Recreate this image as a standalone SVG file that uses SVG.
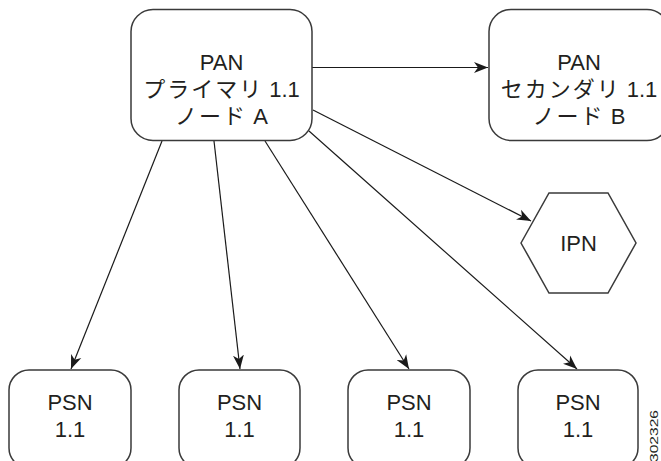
<svg xmlns="http://www.w3.org/2000/svg" width="661" height="461" viewBox="0 0 661 461">
<style>
.box{fill:#fff;stroke:#3a3a3a;stroke-width:1.5}
.lbl{font-family:"Liberation Sans","Noto Sans CJK JP",sans-serif;font-size:22px;fill:#231f20;text-anchor:middle}
.kana{letter-spacing:2px}
.edge{stroke:#1a1a1a;stroke-width:1.2;fill:none;marker-end:url(#arr)}
.fig{font-family:"Liberation Sans",sans-serif;font-size:10px;fill:#231f20}
</style>
<defs>
<marker id="arr" viewBox="-14 -6 15 12" refX="0" refY="0" markerWidth="15" markerHeight="12" markerUnits="userSpaceOnUse" orient="auto">
<path d="M0,0 L-14,-5.5 L-10,0 L-14,5.5 Z" fill="#1a1a1a"/>
</marker>
</defs>
<rect width="661" height="461" fill="#fff"/>
<g id="connectors">
<line class="edge" x1="312" y1="67.5" x2="488" y2="67.5"/>
<line class="edge" x1="313" y1="110" x2="531" y2="221"/>
<line class="edge" x1="162" y1="141" x2="71" y2="369"/>
<line class="edge" x1="214" y1="141" x2="240" y2="369"/>
<line class="edge" x1="265" y1="141" x2="409" y2="369"/>
<line class="edge" x1="309" y1="131" x2="577" y2="369"/>
</g>
<g id="nodeA">
<rect class="box" x="131" y="9.5" width="181" height="131" rx="22"/>
<text class="lbl" x="221.5" y="70">PAN</text>
<text class="lbl" x="221.5" y="97"><tspan class="kana">プライマリ</tspan> 1.1</text>
<text class="lbl" x="221.5" y="124"><tspan class="kana">ノード</tspan> A</text>
</g>
<g id="nodeB">
<rect class="box" x="489" y="9.5" width="180" height="131" rx="22"/>
<text class="lbl" x="579" y="70">PAN</text>
<text class="lbl" x="579" y="97"><tspan class="kana">セカンダリ</tspan> 1.1</text>
<text class="lbl" x="579" y="124"><tspan class="kana">ノード</tspan> B</text>
</g>
<g id="ipn">
<polygon class="box" points="521,243 549,193 608,193 636,243 608,293 549,293"/>
<text class="lbl" x="578.5" y="251">IPN</text>
</g>
<g id="psn1">
<rect class="box" x="9" y="370" width="122" height="98" rx="20"/>
<text class="lbl" x="70" y="410">PSN</text>
<text class="lbl" x="70" y="437">1.1</text>
</g>
<g id="psn2">
<rect class="box" x="179" y="370" width="121" height="98" rx="20"/>
<text class="lbl" x="239.5" y="410">PSN</text>
<text class="lbl" x="239.5" y="437">1.1</text>
</g>
<g id="psn3">
<rect class="box" x="348" y="370" width="122" height="98" rx="20"/>
<text class="lbl" x="409" y="410">PSN</text>
<text class="lbl" x="409" y="437">1.1</text>
</g>
<g id="psn4">
<rect class="box" x="518" y="370" width="120" height="98" rx="20"/>
<text class="lbl" x="578" y="410">PSN</text>
<text class="lbl" x="578" y="437">1.1</text>
</g>
<text class="fig" transform="translate(658,462) rotate(-90)" textLength="52" lengthAdjust="spacingAndGlyphs">302326</text>
</svg>
